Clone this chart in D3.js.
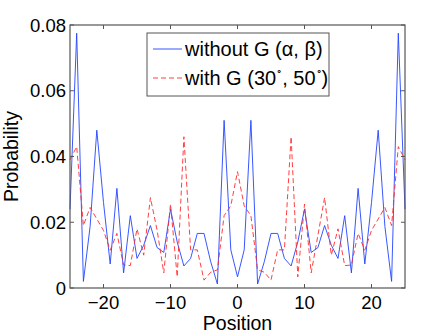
<!DOCTYPE html>
<html>
<head>
<meta charset="utf-8">
<style>
    body{ margin:0; background:#fff; }
    text{ font-family:"Liberation Sans", Arial, sans-serif; fill:#000; }
    .frame{ fill:none; stroke:#555; stroke-width:1.2; }
    .tick{ stroke:#555; stroke-width:1; }
</style>
</head>
<body>
<script src="https://d3js.org/d3.v7.min.js"></script>
<script>
var width = 447, height = 336;

var positions = d3.range(-25, 26);
var withoutG = [0.024, 0.0775, 0.002, 0.0187, 0.048, 0.026, 0.0073, 0.0303, 0.0046, 0.022,
                0.009, 0.013, 0.019, 0.0123, 0.0108, 0.024, 0.014, 0.0067, 0.009, 0.0166,
                0.0166, 0.008, 0.0012, 0.051, 0.0116, 0.0034, 0.0116, 0.051, 0.0012, 0.008,
                0.0166, 0.0166, 0.009, 0.0067, 0.014, 0.024, 0.0108, 0.0123, 0.019, 0.013,
                0.009, 0.022, 0.0046, 0.0303, 0.0073, 0.026, 0.048, 0.0187, 0.002, 0.0775, 0.024];
var withG = [0.039, 0.043, 0.019, 0.0245, 0.021, 0.0175, 0.0115, 0.0166, 0.007, 0.0068,
             0.018, 0.01, 0.0275, 0.0176, 0.0046, 0.0255, 0.0034, 0.046, 0.0116, 0.0116,
             0.0024, 0.0048, 0.0055, 0.022, 0.025, 0.0354, 0.025, 0.022, 0.0055, 0.0048,
             0.0024, 0.0116, 0.0116, 0.046, 0.0034, 0.0255, 0.0046, 0.016, 0.0275, 0.01,
             0.018, 0.0068, 0.007, 0.0166, 0.0115, 0.0175, 0.021, 0.0245, 0.019, 0.043, 0.039];
var xTicks = [-20, -10, 0, 10, 20];
var yTicks = [0, 0.02, 0.04, 0.06, 0.08];
var legendLabels = ["without G (\u03b1, \u03b2)", "with G (30", ", 50", ")"];

var svg = d3.select("body").append("svg")
            .attr("width", width)
            .attr("height", height);

var x = d3.scaleLinear().domain([-25, 25]).range([70, 405]);
var y = d3.scaleLinear().domain([0, 0.08]).range([288, 25]);

// data lines
var line = d3.line().x(function(d){ return x(d[0]); }).y(function(d){ return y(d[1]); });
var blueData = positions.map(function(p, i){ return [p, withoutG[i]]; });
var redData = positions.map(function(p, i){ return [p, withG[i]]; });

svg.append("path").attr("d", line(blueData))
   .attr("fill", "none").attr("stroke", "#2244ff").attr("stroke-width", 0.9);
svg.append("path").attr("d", line(redData))
   .attr("fill", "none").attr("stroke", "#ff2a2a").attr("stroke-width", 0.9)
   .attr("stroke-dasharray", "5,3");

// box
svg.append("rect").attr("class", "frame")
   .attr("x", x(-25)).attr("y", y(0.08))
   .attr("width", x(25) - x(-25)).attr("height", y(0) - y(0.08));

var tl = 4;
xTicks.forEach(function(t){
    svg.append("line").attr("class", "tick")
       .attr("x1", x(t)).attr("x2", x(t)).attr("y1", y(0)).attr("y2", y(0) - tl);
    svg.append("line").attr("class", "tick")
       .attr("x1", x(t)).attr("x2", x(t)).attr("y1", y(0.08)).attr("y2", y(0.08) + tl);
    svg.append("text").attr("x", x(t)).attr("y", y(0) + 21)
       .attr("text-anchor", "middle").attr("font-size", 18.5)
       .text(t < 0 ? "\u2212" + Math.abs(t) : t);
});
yTicks.forEach(function(t){
    svg.append("line").attr("class", "tick")
       .attr("x1", x(-25)).attr("x2", x(-25) + tl).attr("y1", y(t)).attr("y2", y(t));
    svg.append("line").attr("class", "tick")
       .attr("x1", x(25)).attr("x2", x(25) - tl).attr("y1", y(t)).attr("y2", y(t));
    svg.append("text").attr("x", x(-25) - 4).attr("y", y(t) + 6.5)
       .attr("text-anchor", "end").attr("font-size", 18.5)
       .text(t === 0 ? "0" : t.toFixed(2));
});

svg.append("text").attr("x", x(0)).attr("y", 330)
   .attr("text-anchor", "middle").attr("font-size", 19.5).text("Position");
svg.append("text").attr("transform", "translate(18," + ((y(0) + y(0.08)) / 2) + ") rotate(-90)")
   .attr("text-anchor", "middle").attr("font-size", 19.5).text("Probability");

// legend
svg.append("rect").attr("x", 147).attr("y", 33).attr("width", 182).attr("height", 63)
   .attr("fill", "#fff").attr("stroke", "#555").attr("stroke-width", 1);
svg.append("line").attr("x1", 153).attr("x2", 182).attr("y1", 49).attr("y2", 49)
   .attr("stroke", "#2244ff").attr("stroke-width", 0.9);
svg.append("line").attr("x1", 153).attr("x2", 182).attr("y1", 78).attr("y2", 78)
   .attr("stroke", "#ff2a2a").attr("stroke-width", 0.9).attr("stroke-dasharray", "5,3");
svg.append("text").attr("x", 185).attr("y", 56).attr("font-size", 20).text(legendLabels[0]);
var t2 = svg.append("text").attr("x", 185).attr("y", 85).attr("font-size", 20);
t2.append("tspan").text(legendLabels[1]);
t2.append("tspan").attr("dy", -11).attr("font-size", 10).text("\u2218");
t2.append("tspan").attr("dy", 11).text(legendLabels[2]);
t2.append("tspan").attr("dy", -11).attr("font-size", 10).text("\u2218");
t2.append("tspan").attr("dy", 11).text(legendLabels[3]);
</script>
</body>
</html>
